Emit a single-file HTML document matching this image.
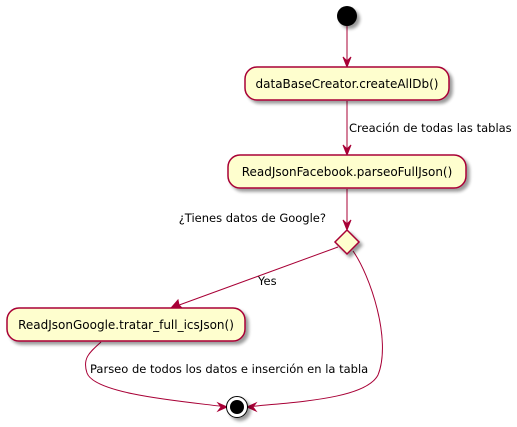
<!DOCTYPE html>
<html><head><meta charset="utf-8"><style>body{margin:0;background:#fff}svg{display:block}</style></head><body>
<svg width="517" height="427" viewBox="0 0 517 427" xmlns="http://www.w3.org/2000/svg" font-family="DejaVu Sans, Liberation Sans, sans-serif">
<defs><filter id="s" x="-20%" y="-20%" width="150%" height="160%"><feGaussianBlur in="SourceAlpha" stdDeviation="1.5"/><feOffset dx="3" dy="3"/><feComponentTransfer><feFuncA type="linear" slope="0.4"/></feComponentTransfer><feMerge><feMergeNode/><feMergeNode in="SourceGraphic"/></feMerge></filter></defs>
<g stroke="#A80036" fill="none" stroke-width="1">
<line x1="347" y1="26" x2="347" y2="66"/>
<polygon fill="#A80036" points="343,57 347,67 351,57 347,61"/>
<line x1="347" y1="101" x2="347" y2="154"/>
<polygon fill="#A80036" points="343,145 347,155 351,145 347,149"/>
<line x1="347" y1="189" x2="347" y2="229"/>
<polygon fill="#A80036" points="343,220 347,230 351,220 347,224"/>
<line x1="338" y1="247" x2="171" y2="308"/>
<polygon fill="#A80036" points="171,308 182,308 179,305 178,300"/>
<path d="M101,342 C90,352 82,358 87,373 C95,395 190,402 227,407"/>
<polygon fill="#A80036" points="227,407 218,403 221,407 218,411"/>
<path d="M353,251 C370,275 392,340 378,375 C365,400 290,402 247,407"/>
<polygon fill="#A80036" points="247,407 256,403 253,407 256,411"/>
</g>
<circle cx="347" cy="16" r="10" fill="#000" filter="url(#s)"/>
<g fill="#FEFECE" stroke="#A80036" stroke-width="1.5" filter="url(#s)">
<rect x="245" y="67" width="204" height="33" rx="12"/>
<rect x="228" y="155" width="238" height="33" rx="12"/>
<polygon points="347,230 359,242 347,254 335,242"/>
<rect x="7" y="308" width="238" height="33" rx="12"/>
</g>
<g filter="url(#s)"><circle cx="237" cy="407" r="10.5" fill="#fff" stroke="#000" stroke-width="1"/></g>
<circle cx="237" cy="407" r="7" fill="#000"/>
<g font-size="12" fill="#000" text-anchor="middle">
<text x="347" y="88">dataBaseCreator.createAllDb()</text>
<text x="347" y="176">ReadJsonFacebook.parseoFullJson()</text>
<text x="126" y="329">ReadJsonGoogle.tratar_full_icsJson()</text>
</g>
<g font-size="11.5" fill="#000">
<text x="349" y="132">Creación de todas las tablas</text>
<text x="326" y="222" text-anchor="end">¿Tienes datos de Google?</text>
<text x="258" y="285">Yes</text>
<text x="90" y="373">Parseo de todos los datos e inserción en la tabla</text>
</g>
</svg>
</body></html>
